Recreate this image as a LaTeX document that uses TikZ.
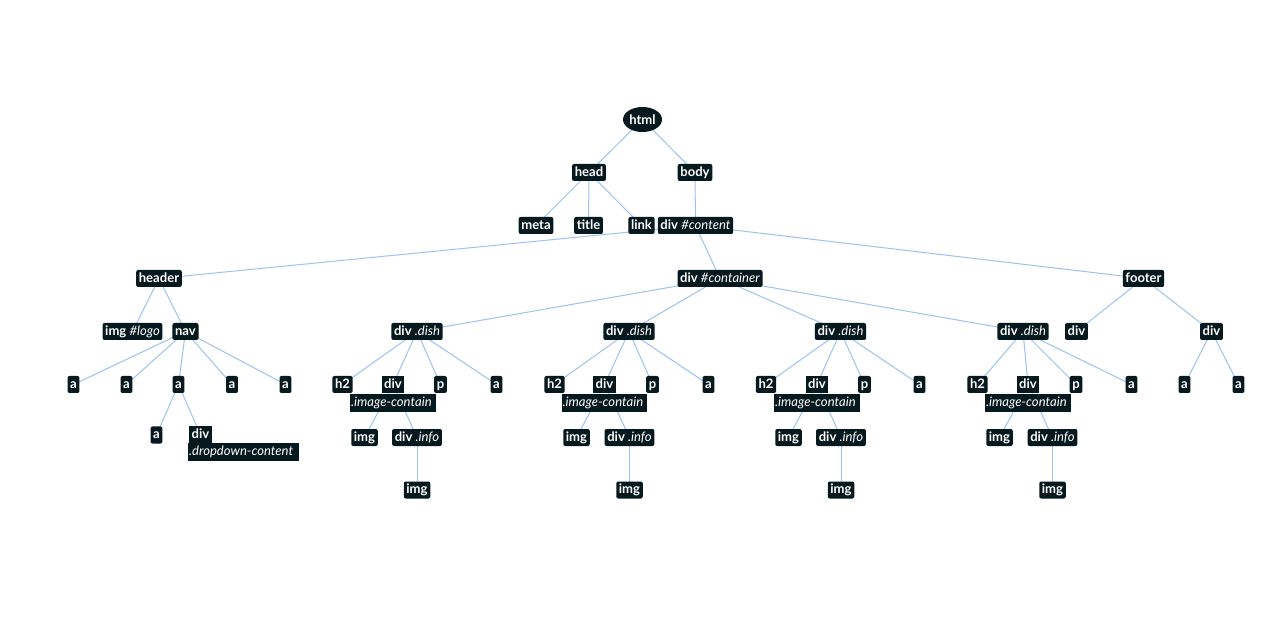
\documentclass[tikz,border=0pt]{standalone}
\usepackage{fontspec}
\setmainfont{Lato}
\usetikzlibrary{shapes.geometric,backgrounds}
\definecolor{nodebg}{HTML}{06191F}
\definecolor{edgec}{HTML}{9CC2F2}
\newcommand\selname[1]{{\mdseries\itshape #1}}
\tikzset{
  tag/.style={fill=nodebg, text=white, font=\bfseries\fontsize{9.8pt}{11pt}\selectfont,
    rounded corners=1.5pt, inner xsep=2pt, inner ysep=0pt,
    minimum height=12.75pt, text height=7.4pt, text depth=2pt},
  sqtag/.style={tag, rounded corners=0pt},
  subline/.style={sqtag, inner xsep=0.6pt, minimum height=13.5pt, align=left},
  edge/.style={draw=edgec, line width=0.75pt}
}
\begin{document}
\begin{tikzpicture}[x=0.75pt,y=-0.75pt]
\useasboundingbox (0,0) rectangle (1286,620);
% top levels
\node[ellipse, fill=nodebg, text=white, font=\bfseries\fontsize{9.8pt}{11pt}\selectfont,
      minimum width=29.25pt, minimum height=18.75pt, inner sep=0pt] (html) at (642.5,119.5) {html};
\node[tag] (head) at (589,172.5) {head};
\node[tag] (body) at (695,172.5) {body};
\node[tag] (meta) at (536,225.5) {meta};
\node[tag] (title) at (588.5,225.5) {title};
\node[tag] (link) at (641.5,225.5) {link};
\node[tag] (content) at (695.5,225.5) {div \selname{\#content}};
\node[tag] (header) at (159,278.5) {header};
\node[tag] (container) at (720,278.5) {div \selname{\#container}};
\node[tag] (footer) at (1143.5,278.5) {footer};
% header subtree
\node[tag] (logo) at (132.5,331.5) {img \selname{\#logo}};
\node[tag] (nav) at (185.5,331.5) {nav};
\node[tag] (na1) at (73.5,384.5) {a};
\node[tag] (na2) at (126.5,384.5) {a};
\node[tag] (na3) at (178.5,384.5) {a};
\node[tag] (na4) at (232,384.5) {a};
\node[tag] (na5) at (285.5,384.5) {a};
\node[tag] (na6) at (156.5,435) {a};
\node[sqtag] (dd) at (200.5,435) {div};
\node[subline, anchor=west, text width=82pt] (ddl) at (188,451.5) {\selname{.dropdown-content}};
% dish groups
\foreach \gi/\gd/\gh/\gv/\gp/\ga/\gm/\gf in
  {1/417/342.5/393/440.5/496.5/364.5/417,
   2/629/554.5/604.5/652.5/708.5/576.5/629.5,
   3/840.5/766/817/864.5/919.5/788.5/841,
   4/1023/977.5/1028/1076/1131.5/999.5/1052.5}{
  \node[tag] (dish\gi) at (\gd,331.5) {div \selname{.dish}};
  \node[tag] (h\gi) at (\gh,384.5) {h2};
  \node[sqtag] (dv\gi) at (\gv,384.5) {div};
  \node[subline, text width=62.85pt] (ic\gi) at (\gv,403) {\selname{.image-contain}};
  \node[tag] (p\gi) at (\gp,384.5) {p};
  \node[tag] (da\gi) at (\ga,384.5) {a};
  \node[tag] (im\gi) at (\gm,437.5) {img};
  \node[tag] (info\gi) at (\gf,437.5) {div \selname{.info}};
  \node[tag] (ib\gi) at (\gf,490) {img};
}
% footer subtree
\node[tag] (fd1) at (1076.5,331.5) {div};
\node[tag] (fd2) at (1211.5,331.5) {div};
\node[tag] (fa1) at (1184.5,384.5) {a};
\node[tag] (fa2) at (1238.5,384.5) {a};
% edges
\begin{pgfonlayer}{background}
\fill[white] (0,0) rectangle (1286,620);
\draw[edge] (html.center) -- (head.center);
\draw[edge] (html.center) -- (body.center);
\foreach \c in {meta,title,link} \draw[edge] (head.center) -- (\c.center);
\draw[edge] (body.center) -- (content.center);
\foreach \c in {header,container,footer} \draw[edge] (content.center) -- (\c.center);
\draw[edge] (header.center) -- (logo.center);
\draw[edge] (header.center) -- (nav.center);
\foreach \c in {na1,na2,na3,na4,na5} \draw[edge] (nav.center) -- (\c.center);
\draw[edge] (na3.center) -- (na6.center);
\draw[edge] (na3.center) -- (dd.center);
\foreach \gi in {1,2,3,4}{
  \draw[edge] (container.center) -- (dish\gi.center);
  \foreach \c in {h,dv,p,da} \draw[edge] (dish\gi.center) -- (\c\gi.center);
  \draw[edge] (dv\gi.center) -- (im\gi.center);
  \draw[edge] (dv\gi.center) -- (info\gi.center);
  \draw[edge] (info\gi.center) -- (ib\gi.center);
}
\draw[edge] (footer.center) -- (fd1.center);
\draw[edge] (footer.center) -- (fd2.center);
\draw[edge] (fd2.center) -- (fa1.center);
\draw[edge] (fd2.center) -- (fa2.center);
\end{pgfonlayer}
\end{tikzpicture}
\end{document}
